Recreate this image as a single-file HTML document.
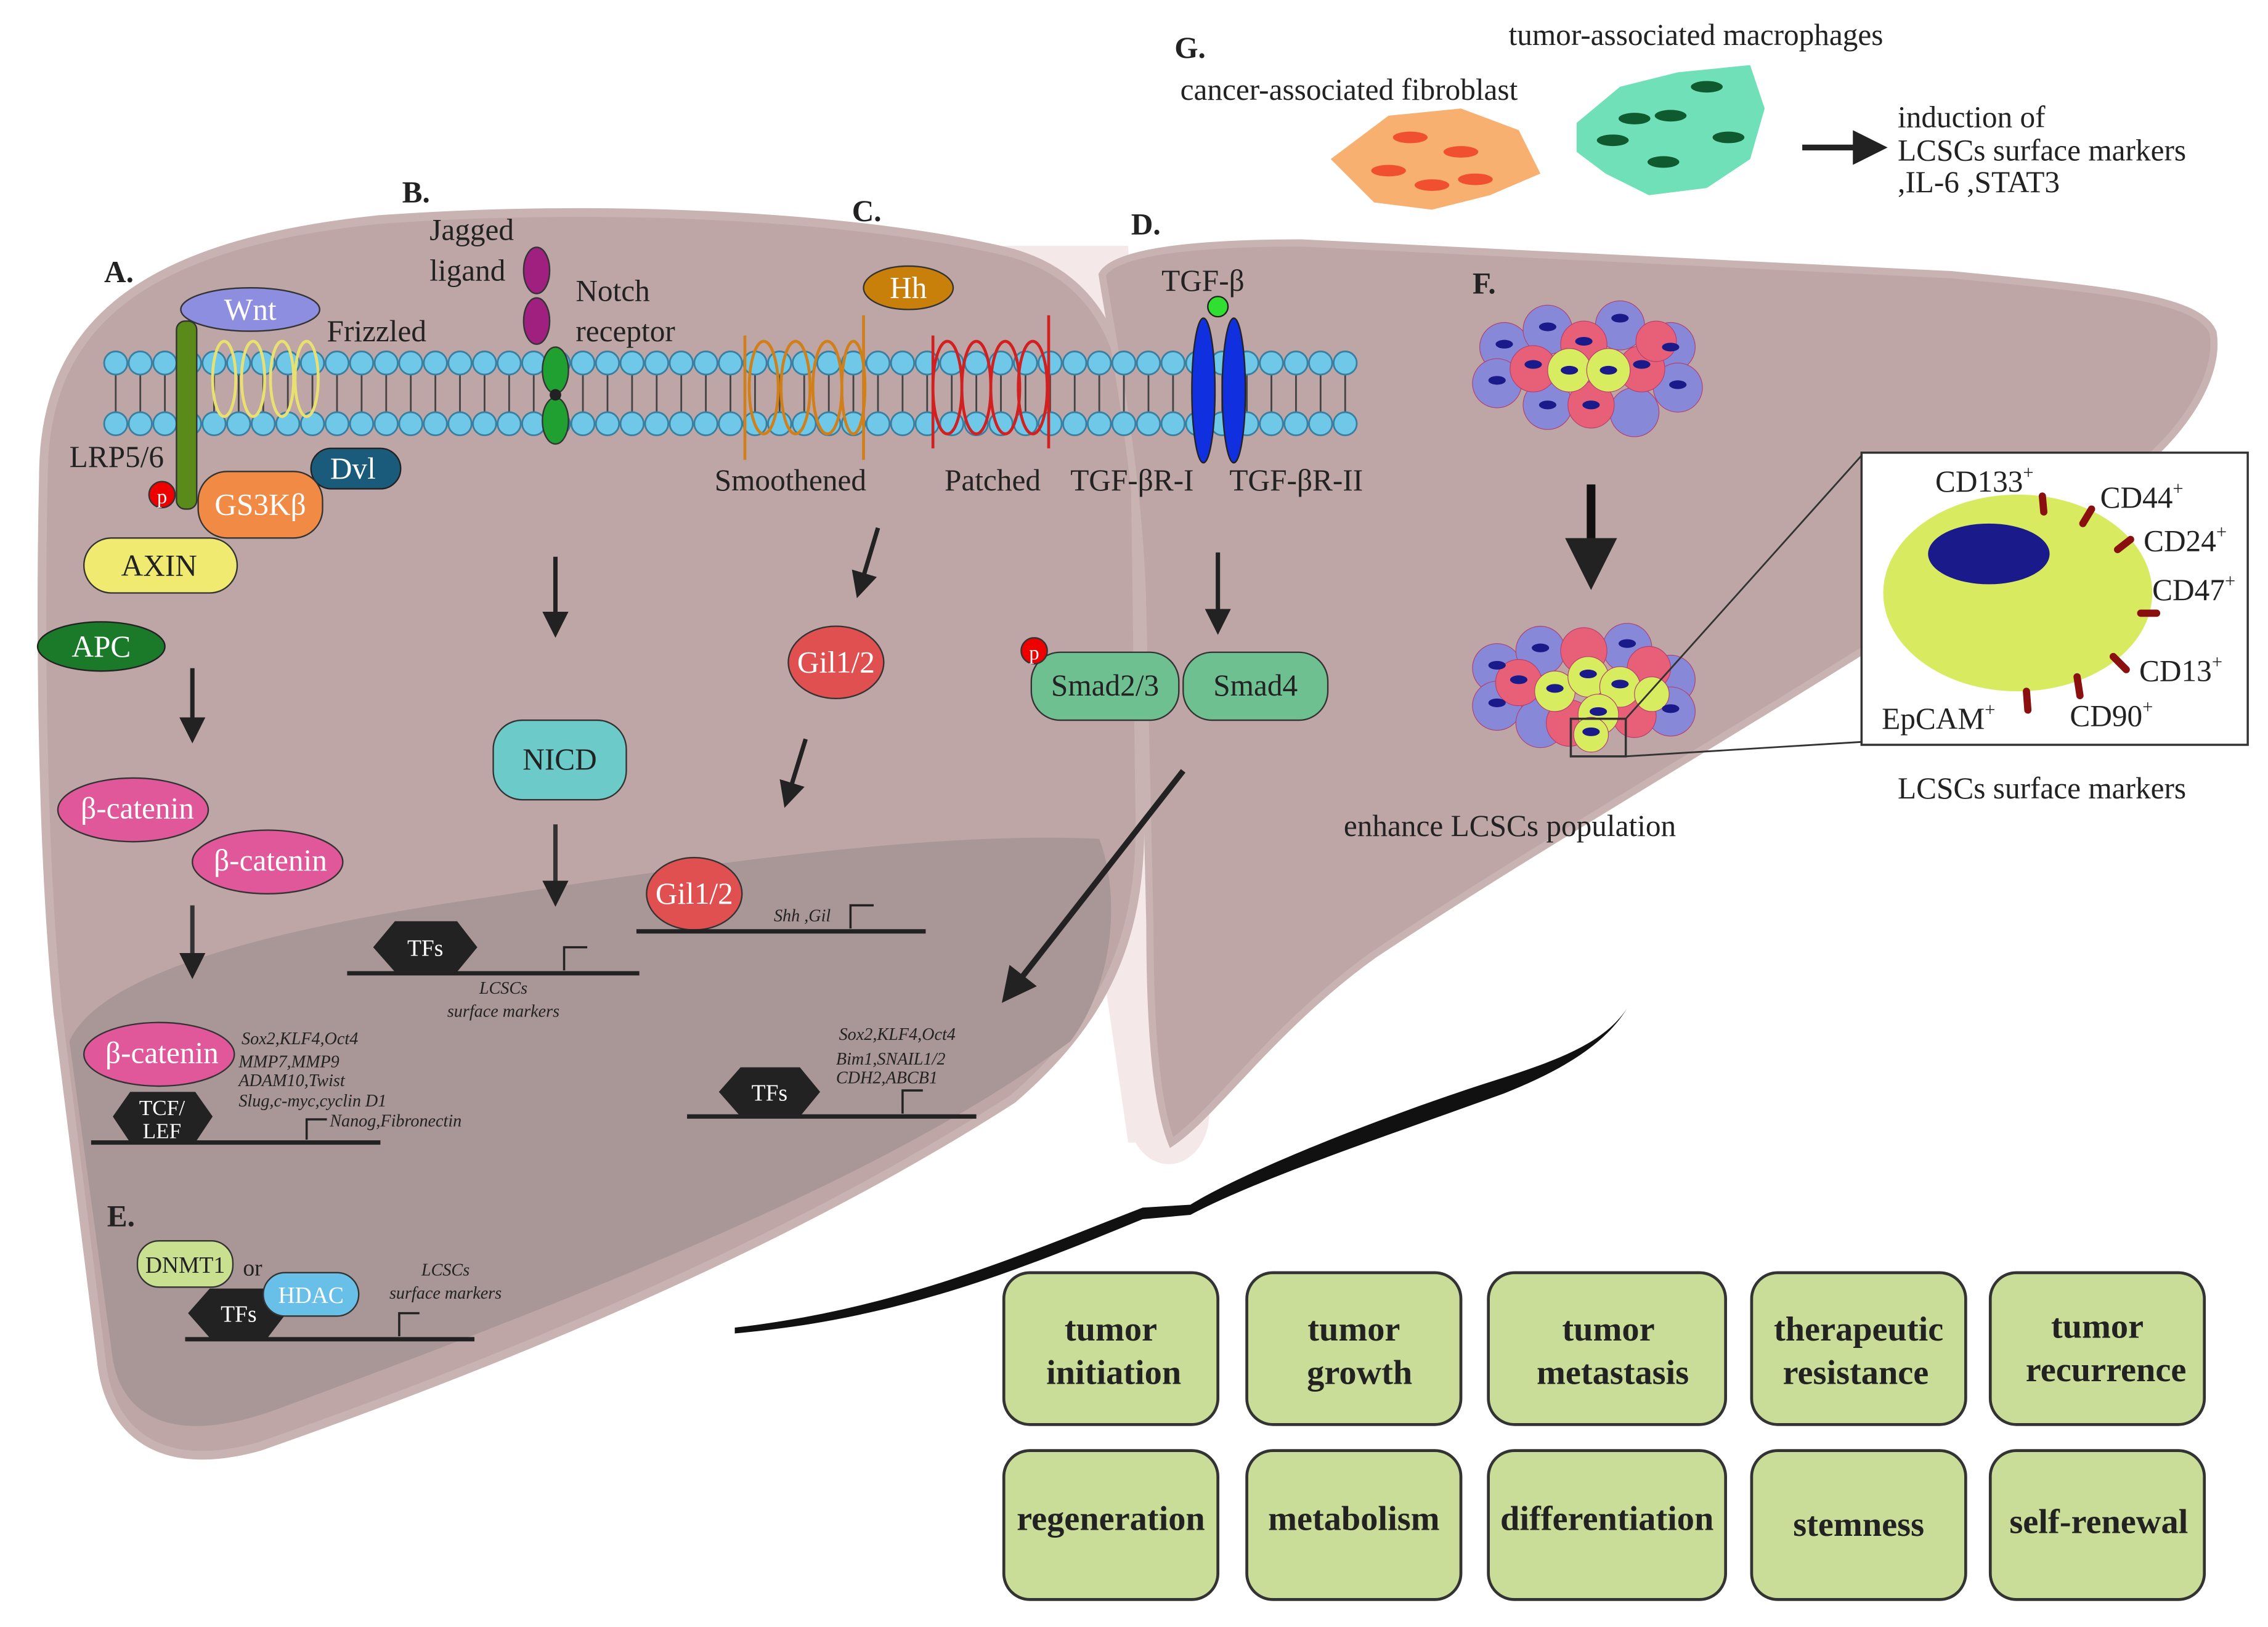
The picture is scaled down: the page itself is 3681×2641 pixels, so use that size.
<!DOCTYPE html>
<html><head><meta charset="utf-8"><style>
html,body{margin:0;padding:0;background:#fff;width:3681px;height:2641px;overflow:hidden}
svg{display:block}
text{font-family:"Liberation Serif",serif}
.b{font-family:"Liberation Serif",serif;font-weight:bold;font-size:24px;fill:#222;text-anchor:middle}
.l{font-size:21px;fill:#222}
.w{font-size:21px;fill:#fff;text-anchor:middle}
.k{font-size:21px;fill:#222;text-anchor:middle}
.i{font-size:12px;font-style:italic;fill:#222}
</style></head><body>
<svg width="3681" height="2641" viewBox="0 0 1568 1125" preserveAspectRatio="none" xmlns="http://www.w3.org/2000/svg">
<defs>
<marker id="ah" markerWidth="6" markerHeight="6" refX="3" refY="3" orient="auto" markerUnits="strokeWidth"><path d="M0,0 L6,3 L0,6 z" fill="#222"/></marker>
</defs>
<rect width="1568" height="1125" fill="#fff"/>
<!-- middle light area -->
<path d="M690,170 L780,170 L800,790 L780,790 Z" fill="#f4e8e8"/>
<ellipse cx="808" cy="770" rx="28" ry="35" fill="#f4e8e8"/>
<!-- left lobe -->
<path d="M30,330 C30,230 90,170 260,152 C420,140 600,150 700,175 C770,195 785,260 785,340 L788,560 C790,640 770,700 700,760 C560,850 380,930 180,1000 C110,1020 75,990 70,940 L40,700 C28,580 28,420 30,330 Z" fill="#bea6a6" stroke="#c9b2b2" stroke-width="6"/>
<!-- inner darker region -->
<path d="M48,720 C70,670 200,640 340,620 C500,595 650,575 760,580 C775,620 770,680 740,720 C620,810 420,890 190,975 C120,1000 85,980 78,940 Z" fill="#a99696"/>
<!-- right lobe -->
<path d="M762,190 C770,175 820,168 900,168 L1350,190 C1450,200 1520,205 1530,230 C1535,260 1510,300 1470,330 C1300,450 1100,560 950,660 C880,710 840,770 810,790 C798,760 795,700 795,640 L790,420 C788,330 770,240 762,190 Z" fill="#bea6a6" stroke="#c9b2b2" stroke-width="5"/>
<!-- membrane -->
<g id="mem">
<g stroke="#444" stroke-width="1.2">
<path d="M80,258 v28 M97,258 v28 M114,258 v28 M131,258 v28 M148,258 v28 M165,258 v28 M182,258 v28 M199,258 v28 M216,258 v28 M233,258 v28 M250,258 v28 M267,258 v28 M284,258 v28 M301,258 v28 M318,258 v28 M335,258 v28 M352,258 v28 M369,258 v28 M386,258 v28 M403,258 v28 M420,258 v28 M437,258 v28 M454,258 v28 M471,258 v28 M488,258 v28 M505,258 v28 M522,258 v28 M539,258 v28 M556,258 v28 M573,258 v28 M590,258 v28 M607,258 v28 M624,258 v28 M641,258 v28 M658,258 v28 M675,258 v28 M692,258 v28 M709,258 v28 M726,258 v28 M743,258 v28 M760,258 v28 M777,258 v28 M794,258 v28 M811,258 v28 M828,258 v28 M845,258 v28 M862,258 v28 M879,258 v28 M896,258 v28 M913,258 v28 M930,258 v28"/>
</g>
</g>
<g fill="#6fc8e8" stroke="#3a7fa0" stroke-width="1">
<script>/* none */</script>
</g>
<g fill="#6fc8e8" stroke="#3a7fa0" stroke-width="1.2">
<circle cx="80" cy="251" r="8"/><circle cx="97" cy="251" r="8"/><circle cx="114" cy="251" r="8"/><circle cx="131" cy="251" r="8"/><circle cx="148" cy="251" r="8"/><circle cx="165" cy="251" r="8"/><circle cx="182" cy="251" r="8"/><circle cx="199" cy="251" r="8"/><circle cx="216" cy="251" r="8"/><circle cx="233" cy="251" r="8"/><circle cx="250" cy="251" r="8"/><circle cx="267" cy="251" r="8"/><circle cx="284" cy="251" r="8"/><circle cx="301" cy="251" r="8"/><circle cx="318" cy="251" r="8"/><circle cx="335" cy="251" r="8"/><circle cx="352" cy="251" r="8"/><circle cx="369" cy="251" r="8"/><circle cx="386" cy="251" r="8"/><circle cx="403" cy="251" r="8"/><circle cx="420" cy="251" r="8"/><circle cx="437" cy="251" r="8"/><circle cx="454" cy="251" r="8"/><circle cx="471" cy="251" r="8"/><circle cx="488" cy="251" r="8"/><circle cx="505" cy="251" r="8"/><circle cx="522" cy="251" r="8"/><circle cx="539" cy="251" r="8"/><circle cx="556" cy="251" r="8"/><circle cx="573" cy="251" r="8"/><circle cx="590" cy="251" r="8"/><circle cx="607" cy="251" r="8"/><circle cx="624" cy="251" r="8"/><circle cx="641" cy="251" r="8"/><circle cx="658" cy="251" r="8"/><circle cx="675" cy="251" r="8"/><circle cx="692" cy="251" r="8"/><circle cx="709" cy="251" r="8"/><circle cx="726" cy="251" r="8"/><circle cx="743" cy="251" r="8"/><circle cx="760" cy="251" r="8"/><circle cx="777" cy="251" r="8"/><circle cx="794" cy="251" r="8"/><circle cx="811" cy="251" r="8"/><circle cx="828" cy="251" r="8"/><circle cx="845" cy="251" r="8"/><circle cx="862" cy="251" r="8"/><circle cx="879" cy="251" r="8"/><circle cx="896" cy="251" r="8"/><circle cx="913" cy="251" r="8"/><circle cx="930" cy="251" r="8"/>
<circle cx="80" cy="293" r="8"/><circle cx="97" cy="293" r="8"/><circle cx="114" cy="293" r="8"/><circle cx="131" cy="293" r="8"/><circle cx="148" cy="293" r="8"/><circle cx="165" cy="293" r="8"/><circle cx="182" cy="293" r="8"/><circle cx="199" cy="293" r="8"/><circle cx="216" cy="293" r="8"/><circle cx="233" cy="293" r="8"/><circle cx="250" cy="293" r="8"/><circle cx="267" cy="293" r="8"/><circle cx="284" cy="293" r="8"/><circle cx="301" cy="293" r="8"/><circle cx="318" cy="293" r="8"/><circle cx="335" cy="293" r="8"/><circle cx="352" cy="293" r="8"/><circle cx="369" cy="293" r="8"/><circle cx="386" cy="293" r="8"/><circle cx="403" cy="293" r="8"/><circle cx="420" cy="293" r="8"/><circle cx="437" cy="293" r="8"/><circle cx="454" cy="293" r="8"/><circle cx="471" cy="293" r="8"/><circle cx="488" cy="293" r="8"/><circle cx="505" cy="293" r="8"/><circle cx="522" cy="293" r="8"/><circle cx="539" cy="293" r="8"/><circle cx="556" cy="293" r="8"/><circle cx="573" cy="293" r="8"/><circle cx="590" cy="293" r="8"/><circle cx="607" cy="293" r="8"/><circle cx="624" cy="293" r="8"/><circle cx="641" cy="293" r="8"/><circle cx="658" cy="293" r="8"/><circle cx="675" cy="293" r="8"/><circle cx="692" cy="293" r="8"/><circle cx="709" cy="293" r="8"/><circle cx="726" cy="293" r="8"/><circle cx="743" cy="293" r="8"/><circle cx="760" cy="293" r="8"/><circle cx="777" cy="293" r="8"/><circle cx="794" cy="293" r="8"/><circle cx="811" cy="293" r="8"/><circle cx="828" cy="293" r="8"/><circle cx="845" cy="293" r="8"/><circle cx="862" cy="293" r="8"/><circle cx="879" cy="293" r="8"/><circle cx="896" cy="293" r="8"/><circle cx="913" cy="293" r="8"/><circle cx="930" cy="293" r="8"/>
</g>
<!-- A. Wnt -->
<text x="72" y="195" font-size="21" font-weight="bold" fill="#222">A.</text>
<g fill="none" stroke="#e8e070" stroke-width="2">
<ellipse cx="155" cy="262" rx="8" ry="26"/><ellipse cx="175" cy="262" rx="8" ry="26"/><ellipse cx="195" cy="262" rx="8" ry="26"/><ellipse cx="212" cy="262" rx="8" ry="26"/>
</g>
<rect x="122" y="222" width="14" height="130" rx="6" fill="#5a8a1a" stroke="#333"/>
<ellipse cx="173" cy="214" rx="48" ry="15" fill="#8e8ee0" stroke="#333"/>
<text class="w" x="173" y="221">Wnt</text>
<text class="l" x="226" y="236">Frizzled</text>
<text class="l" x="48" y="323">LRP5/6</text>
<rect x="215" y="310" width="62" height="28" rx="14" fill="#1a5a7a" stroke="#222"/>
<text class="w" x="244" y="331">Dvl</text>
<rect x="137" y="326" width="86" height="46" rx="20" fill="#f08a45" stroke="#333"/>
<text class="w" x="180" y="356">GS3Kβ</text>
<circle cx="112" cy="342" r="9" fill="#e00" stroke="#333"/><text x="112" y="348" font-size="14" fill="#fff" text-anchor="middle">p</text>
<rect x="58" y="372" width="106" height="38" rx="19" fill="#f0ea70" stroke="#333"/>
<text class="k" x="110" y="398">AXIN</text>
<ellipse cx="70" cy="447" rx="44" ry="17" fill="#1a7a2a" stroke="#222"/>
<text class="w" x="70" y="454">APC</text>
<line x1="133" y1="462" x2="133" y2="505" stroke="#222" stroke-width="3" marker-end="url(#ah)"/>
<ellipse cx="92" cy="560" rx="52" ry="22" fill="#e0589a" stroke="#333"/>
<text class="w" x="95" y="566">β-catenin</text>
<ellipse cx="185" cy="596" rx="52" ry="22" fill="#e0589a" stroke="#333"/>
<text class="w" x="187" y="602">β-catenin</text>
<line x1="133" y1="626" x2="133" y2="668" stroke="#333" stroke-width="3" marker-end="url(#ah)"/>
<ellipse cx="110" cy="729" rx="52" ry="22" fill="#e0589a" stroke="#333"/>
<text class="w" x="112" y="735">β-catenin</text>
<polygon points="78,772 90,755 135,755 147,772 135,790 90,790" fill="#222"/>
<text x="112" y="771" font-size="15" fill="#fff" text-anchor="middle">TCF/</text>
<text x="112" y="787" font-size="15" fill="#fff" text-anchor="middle">LEF</text>
<line x1="63" y1="790" x2="263" y2="790" stroke="#222" stroke-width="3"/>
<path d="M212,788 v-14 h14" fill="none" stroke="#222" stroke-width="1.5"/>
<text class="i" x="167" y="722">Sox2,KLF4,Oct4</text>
<text class="i" x="165" y="738">MMP7,MMP9</text>
<text class="i" x="165" y="751">ADAM10,Twist</text>
<text class="i" x="165" y="765">Slug,c-myc,cyclin D1</text>
<text class="i" x="228" y="779">Nanog,Fibronectin</text>
<!-- B. Notch -->
<text x="278" y="140" font-size="21" font-weight="bold" fill="#222">B.</text>
<text class="l" x="297" y="166">Jagged</text>
<text class="l" x="297" y="194">ligand</text>
<ellipse cx="371" cy="187" rx="9" ry="16" fill="#a02080" stroke="#333"/>
<ellipse cx="371" cy="222" rx="9" ry="16" fill="#a02080" stroke="#333"/>
<text class="l" x="398" y="208">Notch</text>
<text class="l" x="398" y="236">receptor</text>
<ellipse cx="384" cy="256" rx="9" ry="16" fill="#20a030" stroke="#333"/>
<ellipse cx="384" cy="291" rx="9" ry="16" fill="#20a030" stroke="#333"/>
<circle cx="384" cy="273" r="4" fill="#222"/>
<line x1="384" y1="385" x2="384" y2="432" stroke="#222" stroke-width="3" marker-end="url(#ah)"/>
<rect x="341" y="498" width="92" height="55" rx="20" fill="#6ccac8" stroke="#333"/>
<text class="k" x="387" y="532">NICD</text>
<line x1="384" y1="570" x2="384" y2="618" stroke="#333" stroke-width="3" marker-end="url(#ah)"/>
<polygon points="258,655 273,637 316,637 330,655 316,672 273,672" fill="#222"/>
<text x="294" y="661" font-size="16" fill="#fff" text-anchor="middle">TFs</text>
<line x1="240" y1="673" x2="442" y2="673" stroke="#222" stroke-width="3"/>
<path d="M390,671 v-16 h16" fill="none" stroke="#222" stroke-width="1.5"/>
<text class="i" x="348" y="687" text-anchor="middle">LCSCs</text>
<text class="i" x="348" y="703" text-anchor="middle">surface markers</text>
<!-- C. Hh -->
<text x="589" y="153" font-size="21" font-weight="bold" fill="#222">C.</text>
<ellipse cx="628" cy="199" rx="31" ry="15" fill="#c8800a" stroke="#333"/>
<text class="w" x="628" y="206">Hh</text>
<g fill="none" stroke="#d0801a" stroke-width="2">
<line x1="515" y1="232" x2="515" y2="318"/><line x1="597" y1="218" x2="597" y2="318"/>
<ellipse cx="528" cy="268" rx="10" ry="32"/><ellipse cx="550" cy="268" rx="10" ry="32"/><ellipse cx="572" cy="268" rx="10" ry="32"/><ellipse cx="590" cy="268" rx="8" ry="32"/>
</g>
<g fill="none" stroke="#d02020" stroke-width="2">
<line x1="645" y1="232" x2="645" y2="310"/><line x1="725" y1="218" x2="725" y2="310"/>
<ellipse cx="655" cy="268" rx="10" ry="32"/><ellipse cx="675" cy="268" rx="10" ry="32"/><ellipse cx="695" cy="268" rx="10" ry="32"/><ellipse cx="714" cy="268" rx="10" ry="32"/>
</g>
<text class="l" x="494" y="339">Smoothened</text>
<text class="l" x="653" y="339">Patched</text>
<line x1="607" y1="365" x2="595" y2="405" stroke="#222" stroke-width="3" marker-end="url(#ah)"/>
<ellipse cx="578" cy="458" rx="33" ry="25" fill="#e05050" stroke="#333"/>
<text class="w" x="578" y="465">Gil1/2</text>
<line x1="557" y1="511" x2="545" y2="550" stroke="#222" stroke-width="3" marker-end="url(#ah)"/>
<ellipse cx="480" cy="618" rx="33" ry="25" fill="#e05050" stroke="#333"/>
<text class="w" x="480" y="625">Gil1/2</text>
<line x1="440" y1="644" x2="640" y2="644" stroke="#222" stroke-width="3"/>
<path d="M588,642 v-16 h16" fill="none" stroke="#222" stroke-width="1.5"/>
<text class="i" x="535" y="637">Shh ,Gil</text>
<!-- D. TGF -->
<text x="782" y="162" font-size="21" font-weight="bold" fill="#222">D.</text>
<text class="l" x="803" y="201">TGF-β</text>
<ellipse cx="832" cy="270" rx="8" ry="50" fill="#1030e0" stroke="#222"/>
<ellipse cx="853" cy="270" rx="8" ry="50" fill="#1030e0" stroke="#222"/>
<circle cx="842" cy="212" r="7" fill="#30e030" stroke="#222"/>
<text class="l" x="740" y="339">TGF-βR-I</text>
<text class="l" x="850" y="339">TGF-βR-II</text>
<line x1="842" y1="382" x2="842" y2="430" stroke="#222" stroke-width="3" marker-end="url(#ah)"/>
<rect x="713" y="451" width="102" height="47" rx="20" fill="#6fc090" stroke="#333"/>
<text class="k" x="764" y="481">Smad2/3</text>
<rect x="818" y="451" width="100" height="47" rx="20" fill="#6fc090" stroke="#333"/>
<text class="k" x="868" y="481">Smad4</text>
<circle cx="715" cy="450" r="9" fill="#e00" stroke="#333"/><text x="715" y="456" font-size="14" fill="#fff" text-anchor="middle">p</text>
<line x1="818" y1="533" x2="700" y2="684" stroke="#222" stroke-width="4" marker-end="url(#ah)"/>
<polygon points="497,755 512,738 553,738 567,755 553,772 512,772" fill="#222"/>
<text x="532" y="761" font-size="16" fill="#fff" text-anchor="middle">TFs</text>
<line x1="475" y1="772" x2="675" y2="772" stroke="#222" stroke-width="3"/>
<path d="M624,770 v-16 h14" fill="none" stroke="#222" stroke-width="1.5"/>
<text class="i" x="580" y="719">Sox2,KLF4,Oct4</text>
<text class="i" x="578" y="736">Bim1,SNAIL1/2</text>
<text class="i" x="578" y="749">CDH2,ABCB1</text>
<!-- E. -->
<text x="74" y="848" font-size="21" font-weight="bold" fill="#222">E.</text>
<rect x="95" y="858" width="66" height="32" rx="15" fill="#c8e090" stroke="#333"/>
<text x="128" y="880" font-size="16" fill="#222" text-anchor="middle">DNMT1</text>
<text x="168" y="882" font-size="16" fill="#222">or</text>
<polygon points="130,908 145,891 185,891 198,908 185,925 145,925" fill="#222"/>
<text x="165" y="914" font-size="16" fill="#fff" text-anchor="middle">TFs</text>
<rect x="182" y="880" width="66" height="30" rx="15" fill="#68c0e8" stroke="#333"/>
<text x="215" y="901" font-size="16" fill="#fff" text-anchor="middle">HDAC</text>
<line x1="128" y1="926" x2="328" y2="926" stroke="#222" stroke-width="3"/>
<path d="M276,924 v-16 h14" fill="none" stroke="#222" stroke-width="1.5"/>
<text class="i" x="308" y="882" text-anchor="middle">LCSCs</text>
<text class="i" x="308" y="898" text-anchor="middle">surface markers</text>
<!-- G. -->
<text x="812" y="40" font-size="21" font-weight="bold" fill="#222">G.</text>
<text class="l" x="1043" y="31">tumor-associated macrophages</text>
<text class="l" x="816" y="69">cancer-associated fibroblast</text>
<path d="M920,110 L960,80 L1010,75 L1050,90 L1065,120 L1030,135 L990,145 L950,140 Z" fill="#f8b070"/>
<g fill="#f05030"><ellipse cx="975" cy="95" rx="12" ry="4"/><ellipse cx="1010" cy="105" rx="12" ry="4"/><ellipse cx="960" cy="118" rx="12" ry="4"/><ellipse cx="990" cy="128" rx="12" ry="4"/><ellipse cx="1020" cy="124" rx="12" ry="4"/></g>
<path d="M1090,85 L1120,60 L1160,50 L1210,45 L1220,75 L1210,110 L1180,130 L1140,135 L1110,120 L1090,105 Z" fill="#70e0b8"/>
<g fill="#105a30"><ellipse cx="1130" cy="82" rx="11" ry="4"/><ellipse cx="1180" cy="60" rx="11" ry="4"/><ellipse cx="1155" cy="80" rx="11" ry="4"/><ellipse cx="1115" cy="97" rx="11" ry="4"/><ellipse cx="1195" cy="95" rx="11" ry="4"/><ellipse cx="1150" cy="112" rx="11" ry="4"/></g>
<line x1="1246" y1="102" x2="1293" y2="102" stroke="#222" stroke-width="4" marker-end="url(#ah)"/>
<text class="l" x="1312" y="88">induction of</text>
<text class="l" x="1312" y="111">LCSCs surface markers</text>
<text class="l" x="1312" y="133">,IL-6 ,STAT3</text>
<!-- F. -->
<text x="1018" y="203" font-size="21" font-weight="bold" fill="#222">F.</text>
<g stroke="#b04070" stroke-width="0.5">
<circle cx="1040" cy="240" r="17" fill="#8888d8"/><circle cx="1070" cy="228" r="17" fill="#8888d8"/><circle cx="1120" cy="225" r="17" fill="#8888d8"/><circle cx="1155" cy="240" r="17" fill="#8888d8"/><circle cx="1035" cy="265" r="17" fill="#8888d8"/><circle cx="1160" cy="268" r="17" fill="#8888d8"/><circle cx="1070" cy="280" r="17" fill="#8888d8"/><circle cx="1130" cy="285" r="17" fill="#8888d8"/>
<circle cx="1060" cy="255" r="16" fill="#e86078"/><circle cx="1095" cy="238" r="16" fill="#e86078"/><circle cx="1135" cy="255" r="16" fill="#e86078"/><circle cx="1100" cy="280" r="16" fill="#e86078"/><circle cx="1145" cy="236" r="14" fill="#e86078"/>
<circle cx="1085" cy="256" r="15" fill="#d8ec60"/><circle cx="1112" cy="256" r="15" fill="#d8ec60"/>
</g>
<g fill="#1a1a8a"><ellipse cx="1040" cy="238" rx="6" ry="3"/><ellipse cx="1070" cy="226" rx="6" ry="3"/><ellipse cx="1120" cy="220" rx="6" ry="3"/><ellipse cx="1155" cy="240" rx="6" ry="3"/><ellipse cx="1035" cy="263" rx="6" ry="3"/><ellipse cx="1060" cy="252" rx="6" ry="3"/><ellipse cx="1095" cy="236" rx="6" ry="3"/><ellipse cx="1135" cy="252" rx="6" ry="3"/><ellipse cx="1100" cy="280" rx="6" ry="3"/><ellipse cx="1085" cy="256" rx="6" ry="3"/><ellipse cx="1112" cy="256" rx="6" ry="3"/><ellipse cx="1070" cy="280" rx="6" ry="3"/><ellipse cx="1160" cy="266" rx="6" ry="3"/></g>
<line x1="1100" y1="335" x2="1100" y2="390" stroke="#111" stroke-width="6" marker-end="url(#ah)"/>
<g stroke="#b04070" stroke-width="0.5">
<circle cx="1035" cy="462" r="17" fill="#8888d8"/><circle cx="1065" cy="450" r="17" fill="#8888d8"/><circle cx="1125" cy="448" r="17" fill="#8888d8"/><circle cx="1155" cy="470" r="17" fill="#8888d8"/><circle cx="1035" cy="488" r="17" fill="#8888d8"/><circle cx="1155" cy="492" r="17" fill="#8888d8"/><circle cx="1065" cy="500" r="17" fill="#8888d8"/>
<circle cx="1050" cy="472" r="16" fill="#e86078"/><circle cx="1095" cy="450" r="16" fill="#e86078"/><circle cx="1140" cy="462" r="15" fill="#e86078"/><circle cx="1085" cy="500" r="16" fill="#e86078"/><circle cx="1130" cy="495" r="15" fill="#e86078"/>
<circle cx="1075" cy="478" r="14" fill="#d8ec60"/><circle cx="1098" cy="468" r="14" fill="#d8ec60"/><circle cx="1120" cy="475" r="14" fill="#d8ec60"/><circle cx="1105" cy="494" r="14" fill="#d8ec60"/><circle cx="1100" cy="508" r="12" fill="#d8ec60"/><circle cx="1142" cy="480" r="12" fill="#d8ec60"/>
</g>
<g fill="#1a1a8a"><ellipse cx="1035" cy="460" rx="6" ry="3"/><ellipse cx="1065" cy="448" rx="6" ry="3"/><ellipse cx="1125" cy="445" rx="6" ry="3"/><ellipse cx="1050" cy="470" rx="6" ry="3"/><ellipse cx="1075" cy="476" rx="6" ry="3"/><ellipse cx="1098" cy="466" rx="6" ry="3"/><ellipse cx="1120" cy="473" rx="6" ry="3"/><ellipse cx="1105" cy="492" rx="6" ry="3"/><ellipse cx="1100" cy="506" rx="6" ry="3"/><ellipse cx="1155" cy="490" rx="6" ry="3"/><ellipse cx="1035" cy="486" rx="6" ry="3"/></g>
<rect x="1086" y="497" width="38" height="26" fill="none" stroke="#333" stroke-width="1.5"/>
<line x1="1124" y1="497" x2="1287" y2="315" stroke="#333" stroke-width="1.2"/>
<line x1="1124" y1="523" x2="1287" y2="513" stroke="#333" stroke-width="1.2"/>
<rect x="1287" y="313" width="267" height="202" fill="#fff" stroke="#333" stroke-width="1.5"/>
<ellipse cx="1395" cy="410" rx="93" ry="68" fill="#d8ea60"/>
<ellipse cx="1375" cy="383" rx="42" ry="21" fill="#1a1a8a"/>
<g stroke="#8a1010" stroke-width="5" stroke-linecap="round">
<line x1="1412" y1="343" x2="1413" y2="354"/><line x1="1446" y1="352" x2="1440" y2="362"/><line x1="1473" y1="373" x2="1464" y2="380"/><line x1="1491" y1="424" x2="1480" y2="424"/><line x1="1470" y1="463" x2="1461" y2="454"/><line x1="1438" y1="481" x2="1436" y2="468"/><line x1="1402" y1="491" x2="1401" y2="478"/>
</g>
<text class="l" x="1338" y="340">CD133<tspan font-size="13" dy="-9">+</tspan></text>
<text class="l" x="1452" y="351">CD44<tspan font-size="13" dy="-9">+</tspan></text>
<text class="l" x="1482" y="381">CD24<tspan font-size="13" dy="-9">+</tspan></text>
<text class="l" x="1488" y="415">CD47<tspan font-size="13" dy="-9">+</tspan></text>
<text class="l" x="1479" y="471">CD13<tspan font-size="13" dy="-9">+</tspan></text>
<text class="l" x="1431" y="502">CD90<tspan font-size="13" dy="-9">+</tspan></text>
<text class="l" x="1301" y="504">EpCAM<tspan font-size="13" dy="-9">+</tspan></text>
<text class="l" x="1312" y="552">LCSCs surface markers</text>
<text class="l" x="929" y="578">enhance LCSCs population</text>
<!-- brace -->
<path d="M508,918 C620,905 700,870 790,835 L823,833 C860,810 960,770 1040,745 C1080,732 1110,720 1125,697 C1110,722 1080,740 1040,756 C960,785 870,815 823,840 L790,843 C700,880 620,912 508,922 Z" fill="#111"/>
<!-- boxes -->
<g fill="#c9dd98" stroke="#333" stroke-width="2">
<rect x="694" y="880" width="148" height="105" rx="18"/><rect x="862" y="880" width="148" height="105" rx="18"/><rect x="1029" y="880" width="164" height="105" rx="18"/><rect x="1211" y="880" width="148" height="105" rx="18"/><rect x="1376" y="880" width="148" height="105" rx="18"/>
<rect x="694" y="1003" width="148" height="103" rx="18"/><rect x="862" y="1003" width="148" height="103" rx="18"/><rect x="1029" y="1003" width="164" height="103" rx="18"/><rect x="1211" y="1003" width="148" height="103" rx="18"/><rect x="1376" y="1003" width="148" height="103" rx="18"/>
</g>
<text class="b" x="768" y="927">tumor</text><text class="b" x="770" y="957">initiation</text>
<text class="b" x="936" y="927">tumor</text><text class="b" x="940" y="957">growth</text>
<text class="b" x="1112" y="927">tumor</text><text class="b" x="1115" y="957">metastasis</text>
<text class="b" x="1285" y="927">therapeutic</text><text class="b" x="1283" y="957">resistance</text>
<text class="b" x="1450" y="925">tumor</text><text class="b" x="1456" y="955">recurrence</text>
<text class="b" x="768" y="1058">regeneration</text>
<text class="b" x="936" y="1058">metabolism</text>
<text class="b" x="1111" y="1058">differentiation</text>
<text class="b" x="1285" y="1062">stemness</text>
<text class="b" x="1451" y="1060">self-renewal</text>
</svg>
</body></html>
